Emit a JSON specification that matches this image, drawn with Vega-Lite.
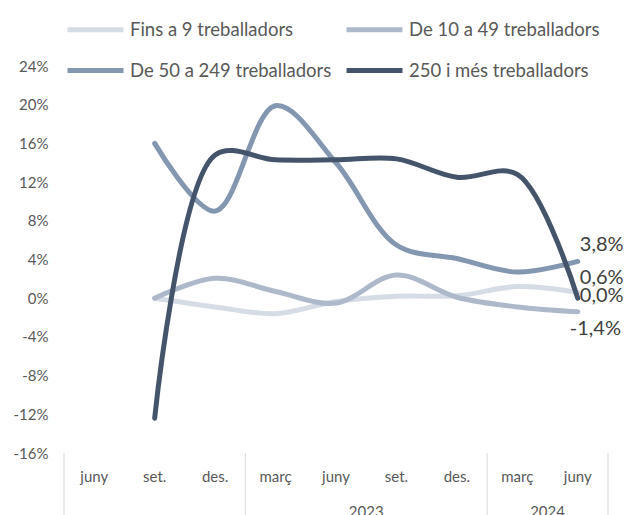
{
  "$schema": "https://vega.github.io/schema/vega-lite/v6.json",
  "width": 544,
  "height": 387,
  "autosize": {"type": "none"},
  "padding": {"left": 64, "top": 66, "right": 17, "bottom": 62},
  "background": "white",
  "config": {
    "view": {"stroke": null},
    "font": "Lato",
    "axisY": {
      "title": null, "domain": false, "ticks": false, "labelOverlap": false, "tickCount": 20,
      "labelPadding": 16, "labelFontSize": 15, "labelColor": "#595959", "labelFont": "Lato",
      "gridColor": "#e8e8e8", "gridWidth": 1
    }
  },
  "datasets": {
    "main": [
      {"t": "2022-09", "s": "Fins a 9 treballadors", "v": 0},
      {"t": "2022-12", "s": "Fins a 9 treballadors", "v": -0.9},
      {"t": "2023-03", "s": "Fins a 9 treballadors", "v": -1.6},
      {"t": "2023-06", "s": "Fins a 9 treballadors", "v": -0.35},
      {"t": "2023-09", "s": "Fins a 9 treballadors", "v": 0.2},
      {"t": "2023-12", "s": "Fins a 9 treballadors", "v": 0.25},
      {"t": "2024-03", "s": "Fins a 9 treballadors", "v": 1.2},
      {"t": "2024-06", "s": "Fins a 9 treballadors", "v": 0.6},
      {"t": "2022-09", "s": "De 10 a 49 treballadors", "v": 0},
      {"t": "2022-12", "s": "De 10 a 49 treballadors", "v": 2.05},
      {"t": "2023-03", "s": "De 10 a 49 treballadors", "v": 0.7},
      {"t": "2023-06", "s": "De 10 a 49 treballadors", "v": -0.5},
      {"t": "2023-09", "s": "De 10 a 49 treballadors", "v": 2.4},
      {"t": "2023-12", "s": "De 10 a 49 treballadors", "v": 0.1},
      {"t": "2024-03", "s": "De 10 a 49 treballadors", "v": -0.9},
      {"t": "2024-06", "s": "De 10 a 49 treballadors", "v": -1.4},
      {"t": "2022-09", "s": "De 50 a 249 treballadors", "v": 16.0},
      {"t": "2022-12", "s": "De 50 a 249 treballadors", "v": 9.0},
      {"t": "2023-03", "s": "De 50 a 249 treballadors", "v": 19.9},
      {"t": "2023-06", "s": "De 50 a 249 treballadors", "v": 14.0},
      {"t": "2023-09", "s": "De 50 a 249 treballadors", "v": 5.5},
      {"t": "2023-12", "s": "De 50 a 249 treballadors", "v": 4.1},
      {"t": "2024-03", "s": "De 50 a 249 treballadors", "v": 2.7},
      {"t": "2024-06", "s": "De 50 a 249 treballadors", "v": 3.8},
      {"t": "2022-09", "s": "250 i més treballadors", "v": -12.4},
      {"t": "2022-12", "s": "250 i més treballadors", "v": 14.8},
      {"t": "2023-03", "s": "250 i més treballadors", "v": 14.3},
      {"t": "2023-06", "s": "250 i més treballadors", "v": 14.3},
      {"t": "2023-09", "s": "250 i més treballadors", "v": 14.4},
      {"t": "2023-12", "s": "250 i més treballadors", "v": 12.5},
      {"t": "2024-03", "s": "250 i més treballadors", "v": 12.8},
      {"t": "2024-06", "s": "250 i més treballadors", "v": 0.0}
    ],
    "edgesLeft": [{"t": "2022-06"}, {"t": "2023-03"}, {"t": "2024-03"}],
    "edgesRight": [{"t": "2024-06"}],
    "years": [{"t": "2023-09", "year": "2023"}, {"t": "2024-06", "year": "2024"}]
  },
  "layer": [
    {
      "mark": {"type": "rule", "color": "#d4d4d4", "strokeWidth": 1.5},
      "encoding": {
        "y": {"datum": 0, "type": "quantitative", "scale": {"domain": [-16, 24], "nice": false, "zero": false},
          "axis": {"values": [-16, -12, -8, -4, 0, 4, 8, 12, 16, 20, 24], "labelExpr": "datum.value + '%'", "labelOverlap": false, "tickCount": 20}}
      }
    },
    {
      "data": {"name": "main"},
      "mark": {"type": "line", "interpolate": "catmull-rom", "strokeWidth": 5, "strokeCap": "round", "strokeJoin": "round"},
      "encoding": {
        "x": {
          "field": "t", "type": "ordinal",
          "scale": {"type": "band", "domain": ["2022-06","2022-09","2022-12","2023-03","2023-06","2023-09","2023-12","2024-03","2024-06"], "paddingInner": 0, "paddingOuter": 0},
          "axis": {
            "title": null, "domain": false, "ticks": false, "grid": false, "labelAngle": 0,
            "labelPadding": 16, "labelFontSize": 15, "labelColor": "#595959", "labelFont": "Lato",
            "labelExpr": "slice(datum.label,5)=='03'?'març':slice(datum.label,5)=='06'?'juny':slice(datum.label,5)=='09'?'set.':'des.'"
          }
        },
        "y": {
          "field": "v", "type": "quantitative",
          "scale": {"domain": [-16, 24], "nice": false, "zero": false},
          "axis": {"values": [-16, -12, -8, -4, 0, 4, 8, 12, 16, 20, 24], "labelExpr": "datum.value + '%'", "labelOverlap": false, "tickCount": 20}
        },
        "color": {
          "field": "s", "type": "nominal",
          "scale": {
            "domain": ["Fins a 9 treballadors", "De 10 a 49 treballadors", "De 50 a 249 treballadors", "250 i més treballadors"],
            "range": ["#d6dce5", "#adb9ca", "#8497b0", "#44546a"]
          },
          "legend": {
            "title": null, "orient": "none", "legendX": 1, "legendY": -67,
            "columns": 2, "direction": "horizontal",
            "symbolType": "stroke", "symbolStrokeWidth": 5, "symbolSize": 3136,
            "labelFontSize": 18.5, "labelColor": "#595959", "labelFont": "Lato", "labelOffset": 4, "labelLimit": 400,
            "rowPadding": -3, "columnPadding": 4, "fillColor": "white", "padding": 0
          }
        }
      }
    },
    {
      "data": {"name": "edgesLeft"},
      "mark": {"type": "rule", "color": "#d9d9d9", "strokeWidth": 1},
      "encoding": {
        "x": {"field": "t", "type": "ordinal", "bandPosition": 0,
          "scale": {"type": "band", "domain": ["2022-06","2022-09","2022-12","2023-03","2023-06","2023-09","2023-12","2024-03","2024-06"], "paddingInner": 0, "paddingOuter": 0}},
        "y": {"datum": -16, "type": "quantitative", "scale": {"domain": [-16, 24], "nice": false, "zero": false}},
        "y2": {"datum": -23}
      }
    },
    {
      "data": {"name": "edgesRight"},
      "mark": {"type": "rule", "color": "#d9d9d9", "strokeWidth": 1},
      "encoding": {
        "x": {"field": "t", "type": "ordinal", "bandPosition": 1,
          "scale": {"type": "band", "domain": ["2022-06","2022-09","2022-12","2023-03","2023-06","2023-09","2023-12","2024-03","2024-06"], "paddingInner": 0, "paddingOuter": 0}},
        "y": {"datum": -16, "type": "quantitative", "scale": {"domain": [-16, 24], "nice": false, "zero": false}},
        "y2": {"datum": -23}
      }
    },
    {
      "data": {"name": "years"},
      "mark": {"type": "text", "fontSize": 15, "color": "#595959", "font": "Lato", "baseline": "middle", "align": "center"},
      "encoding": {
        "x": {"field": "t", "type": "ordinal", "bandPosition": 0,
          "scale": {"type": "band", "domain": ["2022-06","2022-09","2022-12","2023-03","2023-06","2023-09","2023-12","2024-03","2024-06"], "paddingInner": 0, "paddingOuter": 0}},
        "y": {"datum": -22.1, "type": "quantitative", "scale": {"domain": [-16, 24], "nice": false, "zero": false}},
        "text": {"field": "year"}
      }
    },
    {
      "data": {"name": "main"},
      "transform": [
        {"filter": "datum.t == '2024-06' && datum.s == 'De 50 a 249 treballadors'"},
        {"calculate": "replace(replace(format(datum.v, '.1f'), '\u2212', '-'), '.', ',') + '%'", "as": "lab"}
      ],
      "mark": {"type": "text", "fontSize": 20, "color": "#404040", "font": "Lato", "align": "left", "baseline": "middle", "dx": 2, "dy": -16},
      "encoding": {
        "x": {"field": "t", "type": "ordinal", "scale": {"type": "band", "domain": ["2022-06","2022-09","2022-12","2023-03","2023-06","2023-09","2023-12","2024-03","2024-06"], "paddingInner": 0, "paddingOuter": 0}},
        "y": {"field": "v", "type": "quantitative", "scale": {"domain": [-16, 24], "nice": false, "zero": false}},
        "text": {"field": "lab"}
      }
    },
    {
      "data": {"name": "main"},
      "transform": [
        {"filter": "datum.t == '2024-06' && datum.s == 'Fins a 9 treballadors'"},
        {"calculate": "replace(replace(format(datum.v, '.1f'), '\u2212', '-'), '.', ',') + '%'", "as": "lab"}
      ],
      "mark": {"type": "text", "fontSize": 20, "color": "#404040", "font": "Lato", "align": "left", "baseline": "middle", "dx": 2, "dy": -14},
      "encoding": {
        "x": {"field": "t", "type": "ordinal", "scale": {"type": "band", "domain": ["2022-06","2022-09","2022-12","2023-03","2023-06","2023-09","2023-12","2024-03","2024-06"], "paddingInner": 0, "paddingOuter": 0}},
        "y": {"field": "v", "type": "quantitative", "scale": {"domain": [-16, 24], "nice": false, "zero": false}},
        "text": {"field": "lab"}
      }
    },
    {
      "data": {"name": "main"},
      "transform": [
        {"filter": "datum.t == '2024-06' && datum.s == '250 i més treballadors'"},
        {"calculate": "replace(replace(format(datum.v, '.1f'), '\u2212', '-'), '.', ',') + '%'", "as": "lab"}
      ],
      "mark": {"type": "text", "fontSize": 20, "color": "#404040", "font": "Lato", "align": "left", "baseline": "middle", "dx": 2, "dy": -2},
      "encoding": {
        "x": {"field": "t", "type": "ordinal", "scale": {"type": "band", "domain": ["2022-06","2022-09","2022-12","2023-03","2023-06","2023-09","2023-12","2024-03","2024-06"], "paddingInner": 0, "paddingOuter": 0}},
        "y": {"field": "v", "type": "quantitative", "scale": {"domain": [-16, 24], "nice": false, "zero": false}},
        "text": {"field": "lab"}
      }
    },
    {
      "data": {"name": "main"},
      "transform": [
        {"filter": "datum.t == '2024-06' && datum.s == 'De 10 a 49 treballadors'"},
        {"calculate": "replace(replace(format(datum.v, '.1f'), '\u2212', '-'), '.', ',') + '%'", "as": "lab"}
      ],
      "mark": {"type": "text", "fontSize": 20, "color": "#404040", "font": "Lato", "align": "left", "baseline": "middle", "dx": -8, "dy": 17},
      "encoding": {
        "x": {"field": "t", "type": "ordinal", "scale": {"type": "band", "domain": ["2022-06","2022-09","2022-12","2023-03","2023-06","2023-09","2023-12","2024-03","2024-06"], "paddingInner": 0, "paddingOuter": 0}},
        "y": {"field": "v", "type": "quantitative", "scale": {"domain": [-16, 24], "nice": false, "zero": false}},
        "text": {"field": "lab"}
      }
    }
  ]
}
